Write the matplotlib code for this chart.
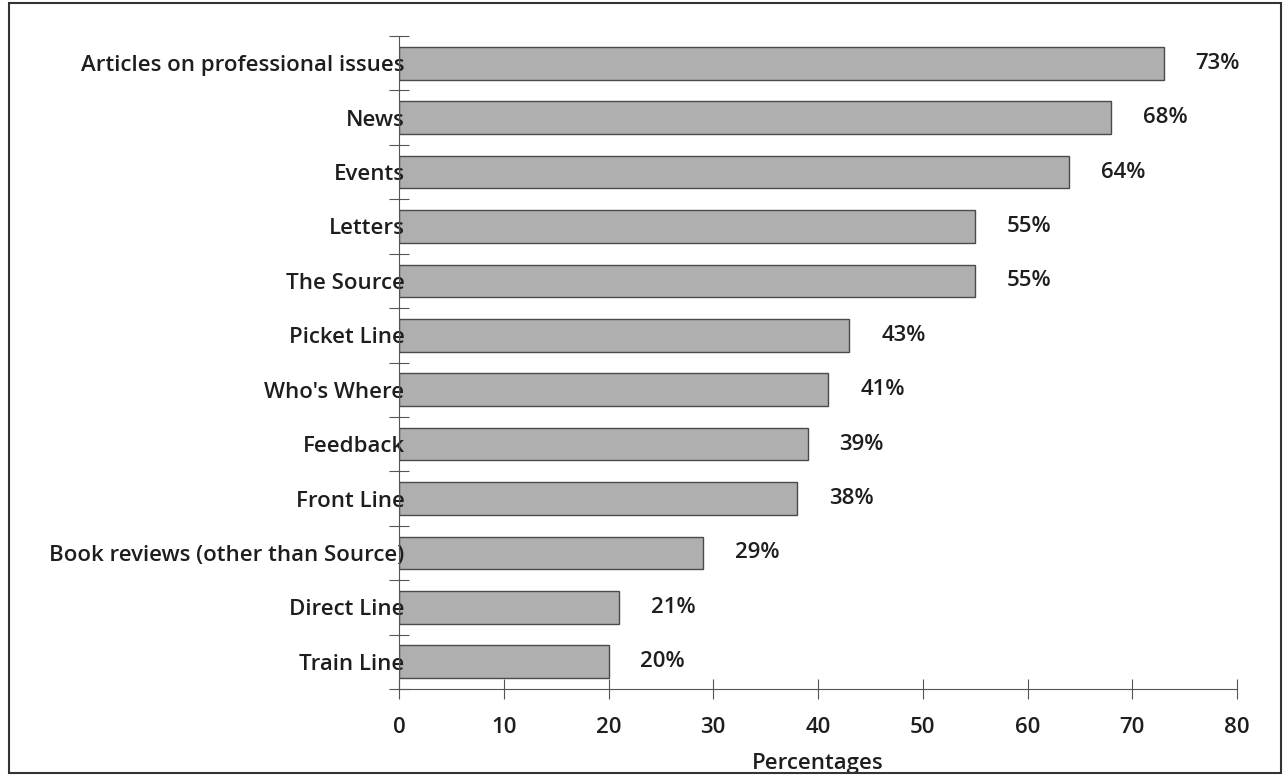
import numpy as np
import matplotlib.pyplot as plt
from matplotlib.patches import Rectangle

# Data (top to bottom as in the chart)
categories = ['Articles on professional issues', 'News', 'Events', 'Letters',
              'The Source', 'Picket Line', "Who's Where", 'Feedback',
              'Front Line', 'Book reviews (other than Source)', 'Direct Line',
              'Train Line']
values = [73, 68, 64, 55, 55, 43, 41, 39, 38, 29, 21, 20]
xticks = [0, 10, 20, 30, 40, 50, 60, 70, 80]

plt.rcParams['font.family'] = ['Open Sans', 'DejaVu Sans']
fs = 16
fw = 'semibold'
tc = '#1e1e1e'

fig = plt.figure(figsize=(12.86, 7.75), dpi=100)
ax = fig.add_axes([0.3103, 0.111, 0.6516, 0.8425])

y = np.arange(len(categories))[::-1]
ax.barh(y, values, height=0.6, color='#afafaf', edgecolor='#4a4a4a', linewidth=1.0)

for yi, v in zip(y, values):
    ax.annotate('%d%%' % v, (v, yi), xytext=(23, 0), textcoords='offset points',
                ha='left', va='center', fontsize=fs, fontweight=fw, color=tc)

ax.set_xlim(0, 80)
ax.set_ylim(-0.5, len(categories) - 0.5)
ax.set_xticks(xticks)
ax.set_xticklabels([str(t) for t in xticks], fontsize=fs, fontweight=fw, color=tc)
ax.set_yticks(y)
ax.set_yticklabels(categories, fontsize=fs, fontweight=fw, color=tc)
ax.set_yticks(np.arange(len(categories) + 1) - 0.5, minor=True)

ax.tick_params(axis='y', which='major', length=0, pad=-4)
ax.tick_params(axis='y', which='minor', length=15, direction='inout', color='#555555', width=0.8)
ax.tick_params(axis='x', which='major', length=14, direction='inout', color='#555555', width=0.8, pad=13)

for s in ['top', 'right']:
    ax.spines[s].set_visible(False)
ax.spines['left'].set_color('#555555')
ax.spines['bottom'].set_color('#555555')
ax.spines['left'].set_linewidth(0.8)
ax.spines['bottom'].set_linewidth(0.8)

ax.set_xlabel('Percentages', fontsize=fs, fontweight=fw, color=tc, labelpad=11)

# outer frame
fig.patches.append(Rectangle((0.007, 0.002), 0.989, 0.994, transform=fig.transFigure,
                             fill=False, edgecolor='#333333', linewidth=1.5))

fig.savefig('out.png', dpi=100)
